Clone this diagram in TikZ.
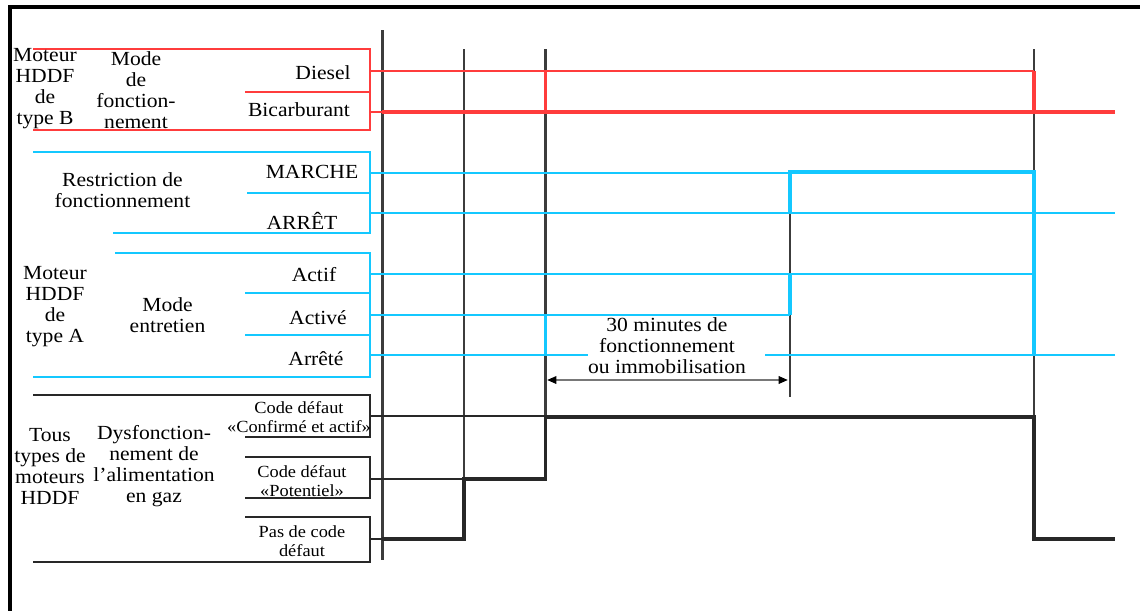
\documentclass[tikz,border=0pt]{standalone}
\usepackage{fontspec}
\setmainfont{Liberation Serif}[FakeStretch=1.08]
\usetikzlibrary{arrows.meta}

\tikzset{every picture/.style={line width=0.75pt}}
\tikzset{
  redline/.style={draw={rgb, 255:red, 255; green, 60; blue, 60 }, line width=1.7pt},
  cyanline/.style={draw={rgb, 255:red, 20; green, 200; blue, 255 }, line width=1.7pt},
  blackline/.style={draw={rgb, 255:red, 40; green, 40; blue, 40 }, line width=1.6pt},
  timeline/.style={draw={rgb, 255:red, 60; green, 60; blue, 60 }, line width=1.6pt},
  thicksig/.style={line width=2.7pt},
  maintext/.style={align=center, inner sep=0.75pt, font=\fontsize{15}{15.75}\selectfont},
  smalltext/.style={align=center, inner sep=0.75pt, font=\fontsize{12.75}{14.5}\selectfont}
}

\begin{document}
\begin{tikzpicture}[x=0.75pt,y=0.75pt,yscale=-1,xscale=1]
\useasboundingbox (0,0) rectangle (1140,611);

%Frame
\draw [line width=2.4pt] (10,611) -- (10,7) -- (1140,7) ;

%Time lines
\draw [timeline, line width=2.4pt] (382.5,30) -- (382.5,560) ;
\draw [timeline] (464,49) -- (464,540) ;
\draw [timeline] (545.5,49) -- (545.5,418) ;
\draw [timeline] (790,172) -- (790,397) ;
\draw [timeline] (1034,49) -- (1034,540) ;

%Mode de fonctionnement (type B)
\draw [redline] (33,49) -- (370,49) -- (370,130) -- (33,130) ;
\draw [redline] (245,92) -- (370,92) ;
\draw [redline] (370,71) -- (1034,71) ;
\draw [redline] (370,112) -- (382,112) ;
\draw [redline, line width=2.3pt] (382,112) -- (1115,112) ;
\draw [redline] (545.5,71) -- (545.5,112) ;
\draw [redline, thicksig] (1034,71) -- (1034,112) ;

%Restriction de fonctionnement
\draw [cyanline] (33,152) -- (370,152) -- (370,233) -- (113,233) ;
\draw [cyanline] (247,193) -- (370,193) ;
\draw [cyanline] (370,173) -- (790,173) ;
\draw [cyanline] (370,213) -- (1115,213) ;
\draw [cyanline, thicksig] (790,213) -- (790,172) -- (1034,172) -- (1034,355) ;

%Mode entretien
\draw [cyanline] (115,253) -- (370,253) -- (370,377) -- (33,377) ;
\draw [cyanline] (245,293) -- (370,293) ;
\draw [cyanline] (245,335) -- (370,335) ;
\draw [cyanline] (370,274) -- (1034,274) ;
\draw [cyanline] (370,315) -- (790,315) ;
\draw [cyanline] (370,355) -- (588,355) ;
\draw [cyanline] (765,355) -- (1115,355) ;
\draw [cyanline] (545.5,315) -- (545.5,355) ;
\draw [cyanline, thicksig] (790,274) -- (790,315) ;

%Dysfonctionnement de l'alimentation en gaz
\draw [blackline] (33,395) -- (370,395) -- (370,437) -- (245,437) ;
\draw [blackline] (245,457) -- (370,457) -- (370,498) -- (245,498) ;
\draw [blackline] (245,517) -- (370,517) -- (370,562) -- (33,562) ;
\draw [blackline] (370,416) -- (545.5,416) ;
\draw [blackline] (370,479) -- (464,479) ;
\draw [blackline] (370,539) -- (382,539) ;
\draw [blackline, thicksig, line join=miter] (382,539) -- (464,539) -- (464,479) -- (545.5,479) -- (545.5,417) -- (1034,417) -- (1034,539) -- (1115,539) ;

%Dimension arrow
\draw [draw={rgb, 255:red, 120; green, 120; blue, 120 }, line width=1.6pt, {Triangle[length=7pt,width=5.5pt,color=black]}-{Triangle[length=7pt,width=5.5pt,color=black]}] (547,380) -- (788,380) ;

% Text Node
\draw (45,89) node (typeB) [maintext] {Moteur\\HDDF\\de\\type B};
% Text Node
\draw (136,90) node (modeB) [maintext] {Mode\\de\\fonction-\\nement};
% Text Node
\draw (323,73) node (diesel) [maintext] {Diesel};
% Text Node
\draw (299,110) node (bicarb) [maintext] {Bicarburant};
% Text Node
\draw (122.5,190) node (restr) [maintext] {Restriction de\\fonctionnement};
% Text Node
\draw (312,172) node (marche) [maintext] {MARCHE};
% Text Node
\draw (302,221) node (arret) [maintext] {ARRÊT};
% Text Node
\draw (55,307) node (typeA) [maintext] {Moteur\\HDDF\\de\\type A};
% Text Node
\draw (167.5,315) node (entretien) [maintext] {Mode\\entretien};
% Text Node
\draw (314,275) node (actif) [maintext] {Actif};
% Text Node
\draw (318,318) node (active) [maintext] {Activé};
% Text Node
\draw (316,359) node (arrete) [maintext] {Arrêté};
% Text Node
\draw (50,466) node (tous) [maintext] {Tous\\types de\\moteurs\\HDDF};
% Text Node
\draw (154,466) node (dysf) [maintext] {Dysfonction-\\nement de\\l’alimentation\\en gaz};
% Text Node
\draw (299,417) node (confirme) [smalltext] {Code défaut\\«Confirmé et actif»};
% Text Node
\draw (302,481) node (potentiel) [smalltext] {Code défaut\\«Potentiel»};
% Text Node
\draw (302,541) node (pascode) [smalltext] {Pas de code\\défaut};
% Text Node
\draw (667,345.5) node (duree) [maintext] {30 minutes de\\fonctionnement\\ou immobilisation};

\end{tikzpicture}
\end{document}
